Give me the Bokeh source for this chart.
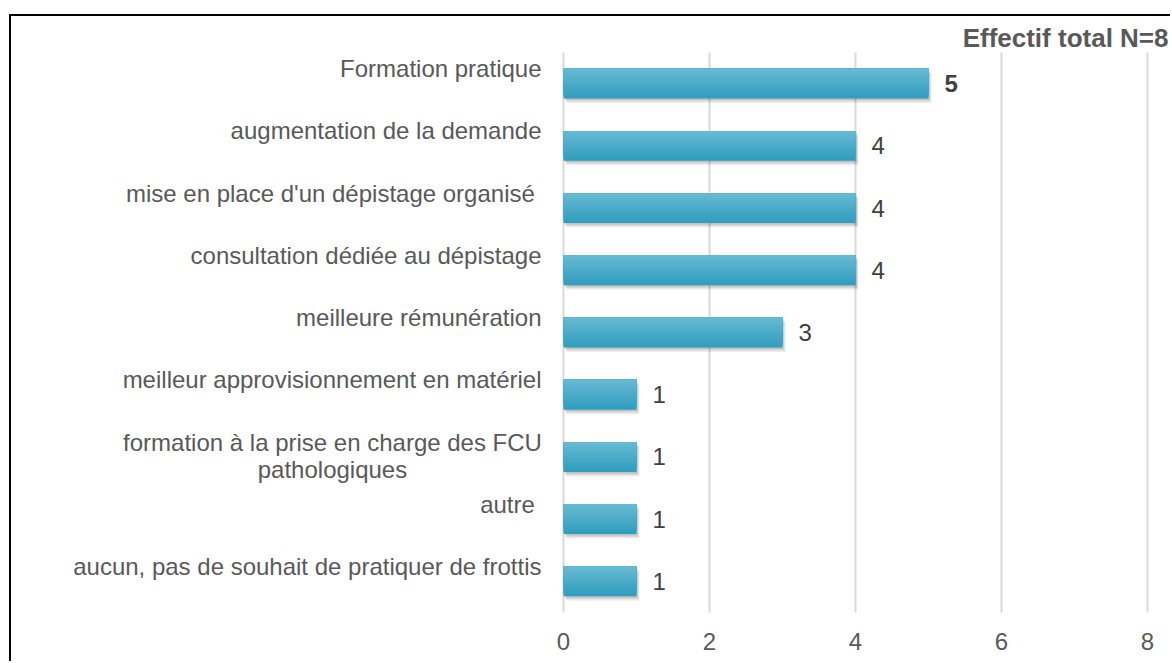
from bokeh.plotting import figure
from bokeh.models import Range1d, FixedTicker, ColumnDataSource
from bokeh.core.properties import value
from bokeh.embed import file_html
from bokeh.resources import INLINE

# ---------------- data ----------------
categories = [
    "Formation pratique",
    "augmentation de la demande",
    "mise en place d'un dépistage organisé ",
    "consultation dédiée au dépistage",
    "meilleure rémunération",
    "meilleur approvisionnement en matériel",
    "formation à la prise en charge des FCU\npathologiques",
    "autre ",
    "aucun, pas de souhait de pratiquer de frottis",
]
counts = [5, 4, 4, 4, 3, 1, 1, 1, 1]
x_ticks = [0, 2, 4, 6, 8]
title_text = "Effectif total N=8"

# ---------------- layout (pixels) ----------------
ORIGIN_X, ORIGIN_Y = 11, 16   # page position of canvas (after margin + border)
W, H = 1172 - ORIGIN_X, 663 - ORIGIN_Y
PX_PER_X = 73.0
PX_PER_Y = 62.22
X0 = 563 - ORIGIN_X       # canvas px where x = 0
Y0 = 612 - ORIGIN_Y       # canvas px where y = 0 (bottom of category band)
FRAME_BOTTOM = 630 - ORIGIN_Y
FONT = "Liberation Sans"
GREY = "#595959"


def px_x(page_x):
    return (page_x - ORIGIN_X - X0) / PX_PER_X


def px_y(page_y):
    return (Y0 - (page_y - ORIGIN_Y)) / PX_PER_Y


x_start = -X0 / PX_PER_X
x_end = (W - X0) / PX_PER_X
y_end = Y0 / PX_PER_Y
y_start = -(FRAME_BOTTOM - Y0) / PX_PER_Y

n = len(categories)
ypos = [n - 1 - i + 0.5 for i in range(n)]

p = figure(
    width=W, height=H,
    x_range=Range1d(x_start, x_end), y_range=Range1d(y_start, y_end),
    y_axis_location=None, toolbar_location=None, output_backend="svg",
    min_border_left=0, min_border_right=0, min_border_top=0, min_border_bottom=H - FRAME_BOTTOM,
    outline_line_color=None, background_fill_color="white", border_fill_color="white",
)
p.styles = {
    "margin-top": "14px",
    "margin-left": "9px",
    "border-top": "2px solid #000000",
    "border-left": "2px solid #000000",
}
p.grid.visible = False

# grid lines (only over the category band)
p.segment(x0=x_ticks, x1=x_ticks, y0=[0] * len(x_ticks), y1=[n] * len(x_ticks),
          line_color="#d9d9d9", line_width=2)

# bars
BAR_H = 0.48

# shadow layers
for dx, dy, a in [(1, 1.5, 0.10), (2, 3.0, 0.09), (3, 4.5, 0.07)]:
    p.hbar(y=[yy - dy / PX_PER_Y for yy in ypos], left=[dx / PX_PER_X] * n,
           right=[c + dx / PX_PER_X for c in counts], height=BAR_H,
           fill_color="#000000", fill_alpha=a, line_color=None)

# gradient: stacked layers, each starting higher and lighter
top_c = (0x66, 0xb9, 0xd2)
bot_c = (0x31, 0x9e, 0xbe)
N_STRIPS = 12
for k in range(N_STRIPS):
    t = k / (N_STRIPS - 1)  # 0 bottom -> 1 top
    col = "#%02x%02x%02x" % tuple(int(round(b + (tc - b) * t)) for tc, b in zip(top_c, bot_c))
    frac = k / N_STRIPS
    hh = BAR_H * (1 - frac)
    yc = [yy + BAR_H / 2 - hh / 2 for yy in ypos]
    p.hbar(y=yc, left=0, right=counts, height=hh, fill_color=col, line_color=None)

# value labels
vmax = max(counts)
p.text(x=counts, y=ypos, text=[str(c) for c in counts],
       x_offset=16, text_align="left", text_baseline="middle",
       text_font=value(FONT), text_font_size="24px", text_color="#404040",
       text_font_style=["bold" if c == vmax else "normal" for c in counts])

# category labels (right-aligned at the same edge; wrapped label centred line by line)
LABEL_RIGHT = 541
special = {
    "formation à la prise en charge des FCU\npathologiques": ("center", LABEL_RIGHT - 209, -1),
}
lx, la, loff = [], [], []
for c in categories:
    align, px, off = special.get(c, ("right", LABEL_RIGHT, -15))
    lx.append(px_x(px))
    la.append(align)
    loff.append(off)
lab_src = ColumnDataSource(dict(x=lx, y=ypos, text=categories, align=la, off=loff))
p.text(x="x", y="y", text="text", text_align="align", y_offset="off",
       text_baseline="middle", text_font=value(FONT), text_font_size="24px",
       text_color=GREY, text_line_height=0.98, source=lab_src)

# title
p.text(x=[px_x(1168)], y=[px_y(37)], text=[title_text], text_align="right",
       text_baseline="middle", text_font=value(FONT), text_font_size="26px",
       text_font_style="bold", text_color=GREY)

# x axis
ax = p.xaxis[0]
ax.ticker = FixedTicker(ticks=x_ticks)
ax.axis_line_color = None
ax.major_tick_line_color = None
ax.minor_tick_line_color = None
ax.major_tick_in = 0
ax.major_tick_out = 0
ax.major_label_standoff = 2
ax.major_label_text_font = FONT
ax.major_label_text_font_size = "24px"
ax.major_label_text_color = GREY

open("out.html", "w").write(file_html(p, INLINE))
